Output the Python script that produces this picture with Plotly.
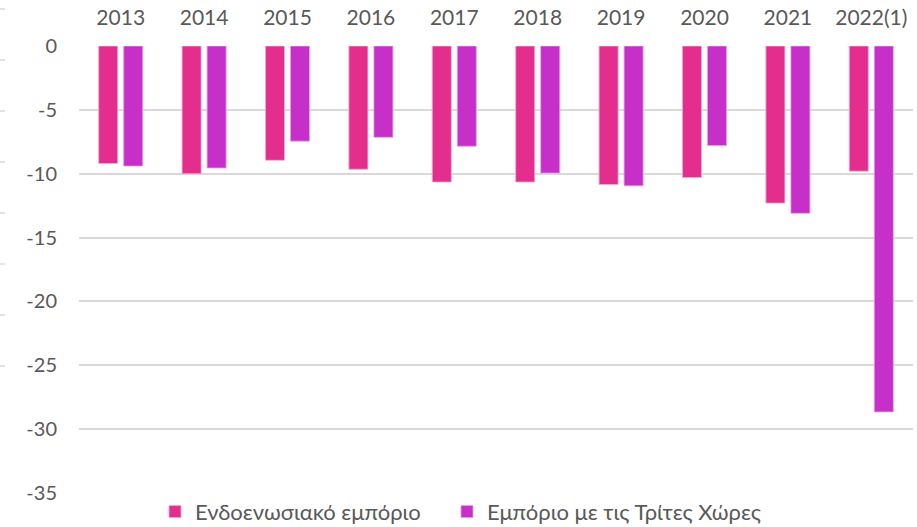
import plotly.graph_objects as go

categories = ["2013", "2014", "2015", "2016", "2017", "2018", "2019", "2020", "2021", "2022(1)"]
intra_eu = [-9.2, -10.0, -8.95, -9.65, -10.65, -10.65, -10.85, -10.3, -12.3, -9.8]
third_countries = [-9.4, -9.55, -7.45, -7.15, -7.85, -9.95, -10.95, -7.8, -13.1, -28.65]
series_names = ["Ενδοενωσιακό εμπόριο", "Εμπόριο με τις Τρίτες Χώρες"]
y_ticks = [0, -5, -10, -15, -20, -25, -30, -35]

colors = ["#E32E8D", "#C62FC8"]
edge = ["#F4A9D2", "#E3A2E6"]
legends = ["legend", "legend2"]

fig = go.Figure()
for name, vals, c, e, lg in zip(series_names, [intra_eu, third_countries], colors, edge, legends):
    fig.add_trace(go.Bar(x=categories, y=vals, name=name, legend=lg,
                         marker=dict(color=c, line=dict(color=e, width=0.8))))

font = "Lato, 'Open Sans', sans-serif"
W = 917
ml, mr, mt, mb = 79, 4, 46, 34
pw = W - ml - mr
ph = 527 - mt - mb

shapes = []
for k in range(8):
    y = 9 + 51 * k
    shapes.append(dict(type="line", xref="paper", yref="paper",
                       x0=-ml / pw, x1=(-ml + 5) / pw,
                       y0=1 - (y - mt) / ph, y1=1 - (y - mt) / ph,
                       line=dict(color="#D9D9D9", width=1.5)))

leg_common = dict(orientation="h", xref="container", xanchor="left", y=-0.042, yanchor="middle",
                  font=dict(size=22, color="#595959"), itemwidth=30, bgcolor="rgba(0,0,0,0)")

fig.update_layout(
    width=W, height=527,
    margin=dict(l=ml, r=mr, t=mt, b=mb, autoexpand=False),
    paper_bgcolor="white", plot_bgcolor="white",
    barmode="group", bargap=0.4, bargroupgap=0.24,
    font=dict(family=font, size=20, color="#595959"),
    xaxis=dict(side="top", showgrid=False, showline=False, ticks="", automargin=False,
               ticklabelstandoff=16,
               tickfont=dict(size=21, color="#595959")),
    yaxis=dict(range=[-35, 0], tickvals=y_ticks, ticktext=[str(v) for v in y_ticks],
               showgrid=True, gridcolor="#D9D9D9", gridwidth=1.8, automargin=False,
               zeroline=False, showline=False, ticks="", ticklabelstandoff=21,
               tickfont=dict(size=20, color="#595959")),
    legend=dict(x=155 / W, **leg_common),
    legend2=dict(x=447 / W, **leg_common),
    showlegend=True,
    shapes=shapes,
)

fig.write_html("out.html", config={"displayModeBar": False},
               post_script="document.body.style.margin='0';document.body.style.overflow='hidden';")
